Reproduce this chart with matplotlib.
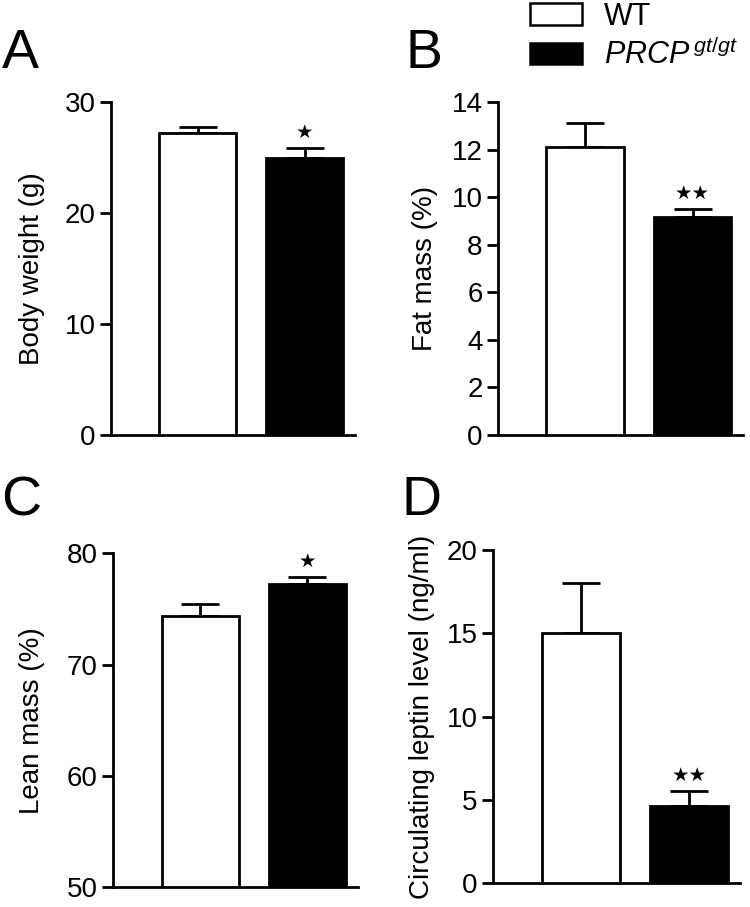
import matplotlib
matplotlib.use("Agg")
import matplotlib.pyplot as plt
from matplotlib.patches import Patch

plt.rcParams['font.family'] = ['Liberation Sans', 'DejaVu Sans']
plt.rcParams['mathtext.fontset'] = 'custom'
plt.rcParams['mathtext.it'] = 'Liberation Sans:italic'
plt.rcParams['mathtext.rm'] = 'Liberation Sans'

groups = ['WT', 'PRCP gt/gt']
colors = ['white', 'black']

# panel A - body weight (g)
body_mean = [27.2, 24.95]
body_sem = [0.55, 0.95]
body_sig = ['', '★']

# panel B - fat mass (%)
fat_mean = [12.1, 9.17]
fat_sem = [1.02, 0.35]
fat_sig = ['', '★★']

# panel C - lean mass (%)
lean_mean = [74.35, 77.2]
lean_sem = [1.05, 0.7]
lean_sig = ['', '★']

# panel D - leptin (ng/ml)
leptin_mean = [15.0, 4.62]
leptin_sem = [3.0, 0.9]
leptin_sig = ['', '★★']

panels = [
    dict(letter='A', mean=body_mean, sem=body_sem, sig=body_sig,
         ylabel='Body weight (g)', ylim=(0, 30), yticks=[0, 10, 20, 30],
         rect=[0.148, 0.5204, 0.325, 0.367], lpos=(0.002, 0.925), pad=14),
    dict(letter='B', mean=fat_mean, sem=fat_sem, sig=fat_sig,
         ylabel='Fat mass (%)', ylim=(0, 14), yticks=[0, 2, 4, 6, 8, 10, 12, 14],
         rect=[0.664, 0.5204, 0.327, 0.367], lpos=(0.541, 0.925), pad=10),
    dict(letter='C', mean=lean_mean, sem=lean_sem, sig=lean_sig,
         ylabel='Lean mass (%)', ylim=(50, 80), yticks=[50, 60, 70, 80],
         rect=[0.151, 0.022, 0.326, 0.368], lpos=(0.002, 0.432), pad=16),
    dict(letter='D', mean=leptin_mean, sem=leptin_sem, sig=leptin_sig,
         ylabel='Circulating leptin level (ng/ml)', ylim=(0, 20), yticks=[0, 5, 10, 15, 20],
         rect=[0.657, 0.0265, 0.33, 0.367], lpos=(0.536, 0.432), pad=8),
]

fig = plt.figure(figsize=(7.5, 9.07), dpi=100)

for p in panels:
    ax = fig.add_axes(p['rect'])
    x = [0, 1]
    base = p['ylim'][0]
    heights = [m - base for m in p['mean']]
    ax.bar(x, heights, bottom=base, width=0.72, color=colors,
           edgecolor='black', linewidth=2, zorder=3)
    ax.errorbar(x, p['mean'], yerr=[[0, 0], p['sem']], fmt='none',
                ecolor='black', elinewidth=2, capsize=14, capthick=2, zorder=2)
    for xi, m, s, star in zip(x, p['mean'], p['sem'], p['sig']):
        if star:
            ax.annotate(star, (xi, m + s), xytext=(0, 11), textcoords='offset points',
                        ha='center', va='center', fontsize=14,
                        family=['DejaVu Sans'])
    ax.set_xlim(-0.81, 1.47)
    ax.set_ylim(*p['ylim'])
    ax.set_yticks(p['yticks'])
    ax.set_xticks([])
    for side in ['top', 'right']:
        ax.spines[side].set_visible(False)
    for side in ['left', 'bottom']:
        ax.spines[side].set_linewidth(2)
    ax.tick_params(axis='y', length=8, width=2, labelsize=20, pad=3)
    ax.set_ylabel(p['ylabel'], fontsize=20, labelpad=p['pad'])
    fig.text(p['lpos'][0], p['lpos'][1], p['letter'],
             fontsize=40, ha='left', va='baseline')

handles = [Patch(facecolor='white', edgecolor='black', linewidth=1.8),
           Patch(facecolor='black', edgecolor='black', linewidth=1.8)]
fig.legend(handles, ['WT', r'$PRCP^{\,gt/gt}$'], loc='upper left',
           bbox_to_anchor=(0.707, 0.998), frameon=False, fontsize=22,
           handlelength=1.7, handleheight=0.7, handletextpad=0.7,
           labelspacing=0.25, borderpad=0, borderaxespad=0)

fig.savefig('out.png', dpi=100)
